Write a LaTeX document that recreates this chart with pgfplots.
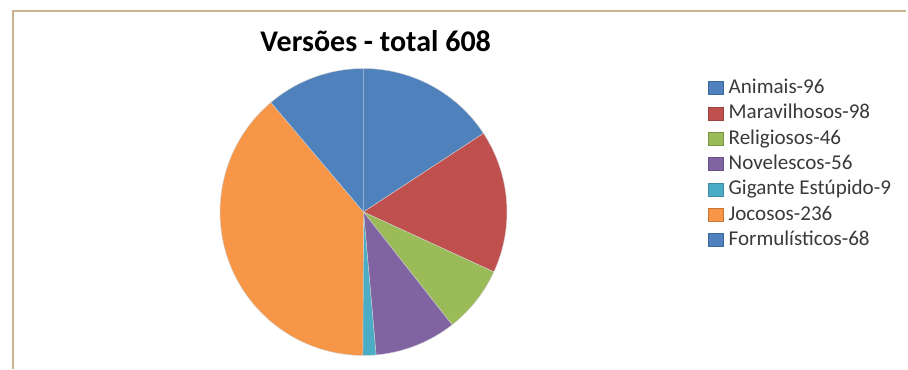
\documentclass[border=0pt]{standalone}
\usepackage{fontspec}
\setmainfont{Carlito}
\usepackage{pgfplots}
\usepackage{pgfplotstable}
\pgfplotsset{compat=1.18}
\definecolor{c0}{HTML}{4F81BD}
\definecolor{c1}{HTML}{C0504D}
\definecolor{c2}{HTML}{9BBB59}
\definecolor{c3}{HTML}{8064A2}
\definecolor{c4}{HTML}{4BACC6}
\definecolor{c5}{HTML}{F79646}
\definecolor{c6}{HTML}{4F81BD}
\definecolor{framec}{HTML}{C9B38A}
\definecolor{legtext}{HTML}{3A3A3A}
\pgfplotstableread{
idx value
0 96
1 98
2 46
3 56
4 9
5 236
6 68
}\datatable
\begin{document}
\begin{tikzpicture}
\begin{axis}[
  scale only axis, width=681pt, height=276.75pt,
  xmin=0, xmax=908, ymin=0, ymax=369,
  hide axis, clip=false,
  legend cell align=left,
  legend image code/.code={\path[#1] (0pt,-4.7pt) rectangle (11pt,5pt);},
  legend style={at={(axis cs:704,293)}, anchor=north west, draw=none, fill=none,
    font=\fontsize{15.8}{18}\selectfont, text=legtext,
    nodes={inner sep=0pt, text height=11pt, text depth=3pt},
    row sep=5pt,
    /tikz/every odd column/.append style={column sep=4pt}},
]
\path (axis cs:0,0) rectangle (axis cs:908,369);
\draw[framec, line width=1.3pt] (axis cs:12.8,0) -- (axis cs:12.8,357.7) -- (axis cs:906,357.7);
\node[font=\bfseries\fontsize{22.5}{25}\selectfont, anchor=base] at (axis cs:375.7,317.5) {Versões - total 608};
% pie
\def\total{0}
\pgfplotsforeachungrouped \i in {0,...,6} {%
  \pgfplotstablegetelem{\i}{value}\of\datatable
  \pgfmathsetmacro\total{\total+\pgfplotsretval}%
}
\def\cum{0}
\pgfplotsforeachungrouped \i in {0,...,6} {%
  \pgfplotstablegetelem{\i}{value}\of\datatable
  \let\val=\pgfplotsretval
  \pgfmathsetmacro\a{90-\cum/\total*360}%
  \pgfmathsetmacro\b{90-(\cum+\val)/\total*360}%
  \edef\temp{\noexpand\path[fill=c\i, draw=white!82!black, line width=0.3pt]
    (axis cs:363.5,157) -- ++(\a:107.6pt) arc[start angle=\a, end angle=\b, radius=107.6pt] -- cycle;}%
  \temp
  \pgfmathsetmacro\cum{\cum+\val}%
}
\addlegendimage{fill=c0, draw=c0!80!black, line width=0.3pt}\addlegendentry{Animais-96}
\addlegendimage{fill=c1, draw=c1!80!black, line width=0.3pt}\addlegendentry{Maravilhosos-98}
\addlegendimage{fill=c2, draw=c2!80!black, line width=0.3pt}\addlegendentry{Religiosos-46}
\addlegendimage{fill=c3, draw=c3!80!black, line width=0.3pt}\addlegendentry{Novelescos-56}
\addlegendimage{fill=c4, draw=c4!80!black, line width=0.3pt}\addlegendentry{Gigante Estúpido-9}
\addlegendimage{fill=c5, draw=c5!80!black, line width=0.3pt}\addlegendentry{Jocosos-236}
\addlegendimage{fill=c6, draw=c6!80!black, line width=0.3pt}\addlegendentry{Formulísticos-68}
\end{axis}
\end{tikzpicture}
\end{document}
